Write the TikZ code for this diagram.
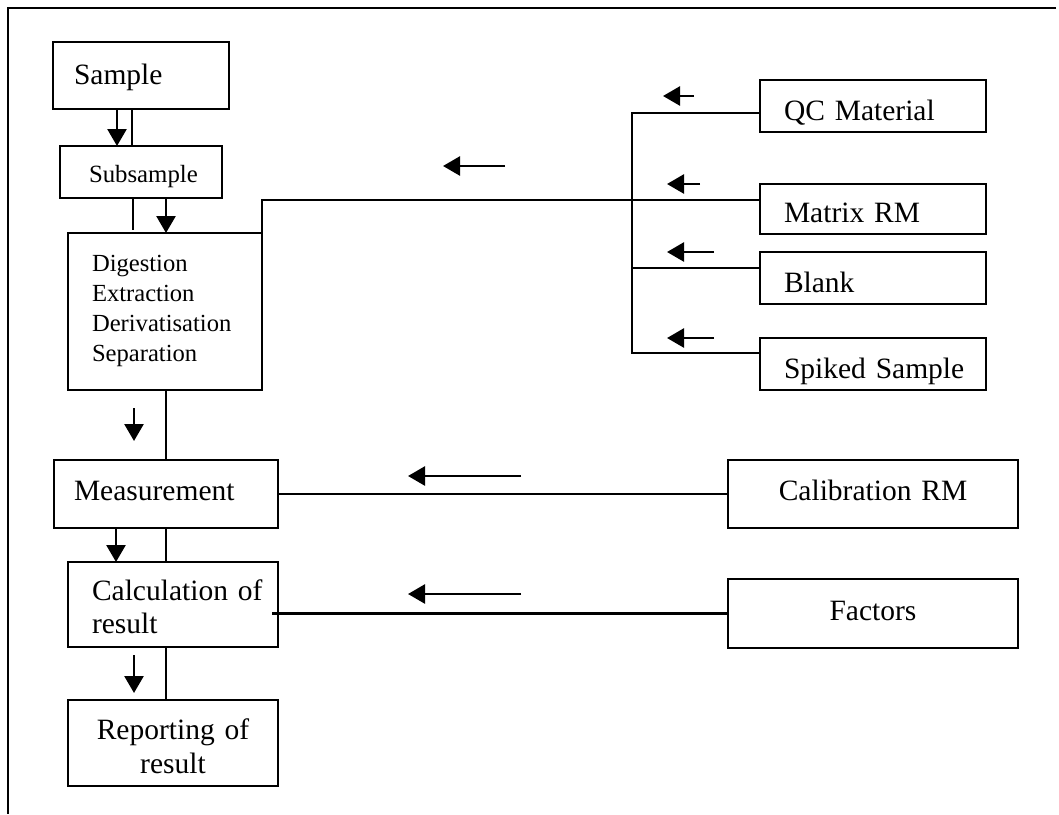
\documentclass[tikz,border=0pt]{standalone}
\usepackage{fontspec}
\setmainfont{Liberation Serif}
\usetikzlibrary{arrows.meta}
\begin{document}
\begin{tikzpicture}[x=1pt,y=-1pt,line width=2.6pt,
  box/.style={draw,line width=2.6pt,outer sep=0pt,inner sep=0pt,align=left,
    font=\fontsize{29.5}{33}\selectfont},
  cbox/.style={box,align=center},
  arr/.style={-{Triangle[length=17pt,width=19pt]}}]
\useasboundingbox (0,0) rectangle (1059,814);
% frame
\draw (1056,8) -- (8,8) -- (8,814);
% left column
\node[box,text width=176pt,minimum height=67pt,text height=17pt,text depth=0pt] (sample) at (141,75.5) {\hspace*{21pt}Sample};
\node[box,text width=162pt,minimum height=52pt,text height=20pt,text depth=0pt,font=\fontsize{24.8}{30}\selectfont] (subsample) at (141,172) {\hspace*{29pt}Subsample};
\node[box,text width=194pt,minimum height=157pt,text height=9pt,text depth=90pt,font=\fontsize{24.6}{30}\selectfont] (digest) at (165,311.5)
  {\hspace*{24pt}Digestion\\\hspace*{24pt}Extraction\\\hspace*{24pt}Derivatisation\\\hspace*{24pt}Separation};
\node[box,text width=224pt,minimum height=68pt,text height=12pt,text depth=0pt] (meas) at (166,494) {\hspace*{20pt}Measurement};
\node[box,text width=210pt,minimum height=85pt,text height=24.4pt,text depth=32pt,font=\fontsize{29.5}{32.3}\selectfont] (calc) at (173,604.5)
  {\hspace*{24pt}Calculation of\\\hspace*{24pt}result};
\node[cbox,text width=210pt,minimum height=86pt,text height=26pt,text depth=34pt,font=\fontsize{29.5}{34}\selectfont] (report) at (173,743)
  {Reporting of\\result};
% right column
\node[box,text width=226pt,minimum height=52pt,text height=28pt,text depth=0pt] (qc) at (873,106) {\hspace*{24pt}QC Material};
\node[box,text width=226pt,minimum height=50pt,text height=26pt,text depth=0pt] (matrix) at (873,209) {\hspace*{24pt}Matrix RM};
\node[box,text width=226pt,minimum height=52pt,text height=28pt,text depth=0pt] (blank) at (873,278) {\hspace*{24pt}Blank};
\node[box,text width=226pt,minimum height=52pt,text height=28pt,text depth=0pt] (spiked) at (873,364) {\hspace*{24pt}Spiked Sample};
\node[cbox,text width=290pt,minimum height=68pt,text height=12pt,text depth=0pt] (calib) at (873,494) {Calibration RM};
\node[cbox,text width=290pt,minimum height=69pt,text height=13pt,text depth=0pt] (factors) at (873,613.5) {Factors};
% free arrow ends
\coordinate (s1) at (133,230);
\coordinate (d1) at (134,408); \coordinate (d2) at (134,441);
\coordinate (c1) at (134,655); \coordinate (c2) at (134,693);
\coordinate (h1a) at (505,166); \coordinate (h1b) at (443,166);
\coordinate (qa) at (694,96);  \coordinate (qb) at (663,96);
\coordinate (ma) at (700,184); \coordinate (mb) at (667,184);
\coordinate (ba) at (714,252); \coordinate (bb) at (667,252);
\coordinate (sa) at (714,338); \coordinate (sb) at (667,338);
\coordinate (ca) at (521,476); \coordinate (cb) at (408,476);
\coordinate (fa) at (521,594); \coordinate (fb) at (408,594);
\coordinate (bustop) at (632,113);
\coordinate (busbot) at (632,353);
\coordinate (busblank) at (632,268);
% vertical connectors
\draw[arr] (117,0 |- sample.south) -- (117,0 |- subsample.north);
\draw (132,0 |- sample.south) -- (132,0 |- subsample.north);
\draw (133,0 |- subsample.south) -- (s1);
\draw[arr] (166,0 |- subsample.south) -- (166,0 |- digest.north);
\draw[arr] (d1) -- (d2);
\draw (166,0 |- digest.south) -- (166,0 |- meas.north);
\draw[arr] (116,0 |- meas.south) -- (116,0 |- calc.north);
\draw (166,0 |- meas.south) -- (166,0 |- calc.north);
\draw[arr] (c1) -- (c2);
\draw (166,0 |- calc.south) -- (166,0 |- report.north);
% horizontal connectors
\draw (digest.north east) -- ++(0,-33) -- (matrix.west |- 0,200);
\draw (qc.west |- bustop) -- (bustop) -- (busbot) -- (spiked.west |- busbot);
\draw (busblank) -- (blank.west |- busblank);
\draw (meas.east) -- (calib.west);
\draw (factors.west) -- (factors.west -| 272,0);
% free arrows
\draw[arr] (h1a) -- (h1b);
\draw[arr] (qa) -- (qb);
\draw[arr] (ma) -- (mb);
\draw[arr] (ba) -- (bb);
\draw[arr] (sa) -- (sb);
\draw[arr] (ca) -- (cb);
\draw[arr] (fa) -- (fb);
\end{tikzpicture}
\end{document}
